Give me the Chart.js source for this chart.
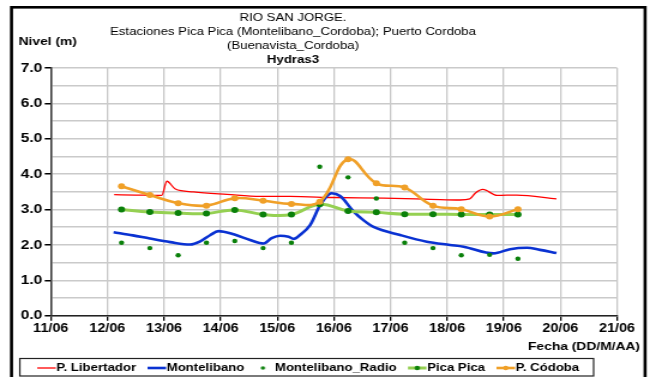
<!DOCTYPE html>
<html>
<head>
<meta charset="utf-8">
<title>Rio San Jorge - Niveles</title>
<script src="https://cdn.jsdelivr.net/npm/chart.js@4.4.1/dist/chart.umd.min.js"></script>
<style>
  html, body { margin: 0; padding: 0; background: #ffffff; }
  #nivel { display: block; width: 650px; height: 377px; }
</style>
</head>
<body>
<canvas id="nivel" width="542" height="377" style="width:650px;height:377px;"></canvas>
<script>
// X axis: days of June, one tick per day
const dayTicks = [11, 12, 13, 14, 15, 16, 17, 18, 19, 20, 21];
const tickLabels = ['11/06', '12/06', '13/06', '14/06', '15/06', '16/06', '17/06', '18/06', '19/06', '20/06', '21/06'];

// Manual readings, 06:00 and 18:00 each day (day of June as a decimal)
const readingDays = [12.25, 12.75, 13.25, 13.75, 14.25, 14.75, 15.25, 15.75, 16.25, 16.75, 17.25, 17.75, 18.25, 18.75, 19.25];
const puertoCordoba    = [3.66, 3.41, 3.18, 3.11, 3.32, 3.25, 3.16, 3.22, 4.42, 3.74, 3.62, 3.11, 3.01, 2.80, 3.01];
const picaPica         = [3.00, 2.93, 2.90, 2.89, 2.99, 2.86, 2.86, 3.15, 2.96, 2.92, 2.87, 2.87, 2.86, 2.86, 2.86];
const montelibanoRadio = [2.06, 1.91, 1.71, 2.06, 2.11, 1.91, 2.06, 4.21, 3.91, 3.31, 2.06, 1.91, 1.71, 1.72, 1.61];

// Automatic station Montelibano
const montelibanoDays  = [12.11, 12.45, 12.75, 13.11, 13.46, 13.64, 13.82, 13.96, 14.23, 14.52, 14.76, 14.90, 15.05, 15.20, 15.29, 15.40, 15.58, 15.76, 15.96, 16.11, 16.35, 16.52, 16.70, 17.17, 17.64, 18.05, 18.29, 18.82, 19.11, 19.41, 19.64, 19.93];
const montelibanoLevel = [2.36, 2.27, 2.18, 2.08, 2.01, 2.10, 2.28, 2.39, 2.30, 2.14, 2.04, 2.19, 2.26, 2.23, 2.17, 2.28, 2.56, 3.13, 3.46, 3.38, 2.94, 2.70, 2.51, 2.28, 2.09, 2.00, 1.95, 1.76, 1.88, 1.92, 1.86, 1.77];

// Automatic station P. Libertador
const libertadorDays  = [12.12, 12.50, 12.96, 13.05, 13.20, 13.52, 14.11, 14.70, 15.23, 15.99, 16.88, 17.70, 18.23, 18.40, 18.50, 18.63, 18.88, 19.23, 19.93];
const libertadorLevel = [3.42, 3.41, 3.40, 3.80, 3.58, 3.50, 3.43, 3.37, 3.37, 3.34, 3.32, 3.29, 3.27, 3.30, 3.47, 3.57, 3.40, 3.41, 3.30];

const FONT = "'Liberation Sans', Arial, Helvetica, sans-serif";
const RED = '#ff0000', BLUE = '#0a32d2', DARK_GREEN = '#0a800a', LIGHT_GREEN = '#95d052', ORANGE = '#f0a028';

const pairs = (xs, ys) => xs.map((x, i) => ({ x: x, y: ys[i] }));

// Small legend symbols: a line segment, optionally with a marker on it
function legendIcon(lineColor, lineWidth, dotColor, dotRadius) {
  const c = document.createElement('canvas');
  c.width = 21; c.height = 10;
  const g = c.getContext('2d');
  if (lineColor) {
    g.strokeStyle = lineColor; g.lineWidth = lineWidth;
    g.beginPath(); g.moveTo(5, 5); g.lineTo(20.5, 5); g.stroke();
  }
  if (dotColor) {
    g.fillStyle = dotColor;
    g.beginPath(); g.arc(lineColor ? 12.75 : 11, 5, dotRadius, 0, Math.PI * 2); g.fill();
  }
  return c;
}
const legendIcons = [
  legendIcon(RED, 1.3, null, 0),
  legendIcon(BLUE, 2.6, null, 0),
  legendIcon(null, 0, DARK_GREEN, 1.8),
  legendIcon(LIGHT_GREEN, 3, DARK_GREEN, 2.2),
  legendIcon(ORANGE, 2.6, ORANGE, 2.2)
];

// Frame, header texts, axis captions and the box around the legend
const decorations = {
  id: 'decorations',
  beforeDraw(chart) {
    const ctx = chart.ctx;
    ctx.save();
    ctx.fillStyle = '#ffffff';
    ctx.fillRect(0, 0, chart.width, chart.height);
    ctx.restore();
  },
  afterDraw(chart) {
    const ctx = chart.ctx;
    ctx.save();
    ctx.fillStyle = '#000000';
    ctx.textBaseline = 'middle';
    ctx.textAlign = 'center';
    ctx.font = '11px ' + FONT;
    ctx.fillText('RIO SAN JORGE.', 244.3, 18);
    ctx.fillText('Estaciones Pica Pica (Montelibano_Cordoba); Puerto Cordoba', 244.3, 32);
    ctx.fillText('(Buenavista_Cordoba)', 244.3, 45.5);
    ctx.font = 'bold 11px ' + FONT;
    ctx.fillText('Hydras3', 244.3, 59.5);

    ctx.font = 'bold 11.5px ' + FONT;
    ctx.textAlign = 'left';
    ctx.fillText('Nivel (m)', 15.5, 42);
    ctx.textAlign = 'right';
    ctx.fillText('Fecha (DD/M/AA)', 533.6, 347);

    const boxes = chart.legend.legendHitBoxes;
    if (boxes && boxes.length) {
      const first = boxes[0], last = boxes[boxes.length - 1];
      const left = first.left - 15;
      const right = last.left + last.width + 12;
      ctx.strokeStyle = '#222222';
      ctx.lineWidth = 1.2;
      ctx.strokeRect(left, 358.5, right - left, 17.5);
    }

    ctx.strokeStyle = '#000000';
    ctx.lineWidth = 2.6;
    ctx.strokeRect(9.6, 7.3, 528.3, 380);
    ctx.restore();
  }
};

new Chart(document.getElementById('nivel'), {
  type: 'line',
  data: {
    datasets: [
      {
        label: 'P. Libertador', data: pairs(libertadorDays, libertadorLevel),
        borderColor: RED, backgroundColor: RED, borderWidth: 1.3,
        pointRadius: 0, cubicInterpolationMode: 'monotone', order: 5
      },
      {
        label: 'Montelibano', data: pairs(montelibanoDays, montelibanoLevel),
        borderColor: BLUE, backgroundColor: BLUE, borderWidth: 2.6,
        pointRadius: 0, cubicInterpolationMode: 'monotone', order: 4
      },
      {
        label: 'Montelibano_Radio', data: pairs(readingDays, montelibanoRadio),
        showLine: false, borderColor: DARK_GREEN, backgroundColor: DARK_GREEN,
        pointRadius: 2.2, pointBorderWidth: 0, order: 3
      },
      {
        label: 'Pica Pica', data: pairs(readingDays, picaPica),
        borderColor: LIGHT_GREEN, backgroundColor: DARK_GREEN, borderWidth: 3,
        pointBackgroundColor: DARK_GREEN, pointBorderWidth: 0, pointRadius: 3,
        tension: 0.4, order: 2
      },
      {
        label: 'P. Códoba', data: pairs(readingDays, puertoCordoba),
        borderColor: ORANGE, backgroundColor: ORANGE, borderWidth: 2.6,
        pointBackgroundColor: ORANGE, pointBorderWidth: 0, pointRadius: 3,
        tension: 0.4, order: 1
      }
    ]
  },
  options: {
    responsive: false,
    animation: false,
    devicePixelRatio: 1,
    layout: { padding: { left: 0, right: 27.5, top: 68, bottom: -6.5 } },
    scales: {
      x: {
        type: 'linear', min: 11, max: 21,
        afterFit(scale) { scale.height = 36.8; },
        ticks: {
          stepSize: 1, autoSkip: false, maxRotation: 0, padding: 1,
          color: '#000000', font: { family: FONT, size: 12, weight: 'bold' },
          callback: (v) => { const i = dayTicks.indexOf(v); return i >= 0 ? tickLabels[i] : ''; }
        },
        grid: { color: '#c8c8c8', lineWidth: 1.3, tickColor: '#000000', tickLength: 5 },
        border: { color: '#222222', width: 1.5 }
      },
      y: {
        min: 0, max: 7,
        afterFit(scale) { scale.width = 42.3; },
        ticks: {
          stepSize: 0.5, autoSkip: false, padding: 2,
          color: '#000000', font: { family: FONT, size: 13, weight: 'bold' },
          callback: (v) => (Math.abs(v % 1) < 1e-9 ? v.toFixed(1) : '')
        },
        grid: {
          color: '#cacaca', lineWidth: 1.5, tickLength: 5,
          tickColor: (c) => (c.tick && Math.abs(c.tick.value % 1) < 1e-9 ? '#000000' : 'rgba(0,0,0,0)')
        },
        border: { color: '#333333', width: 1.5 }
      }
    },
    plugins: {
      title: { display: false },
      tooltip: { enabled: false },
      legend: {
        position: 'bottom',
        labels: {
          usePointStyle: true, pointStyleWidth: 10, padding: 10,
          color: '#000000', font: { family: FONT, size: 11, weight: 'bold' },
          sort: (a, b) => a.datasetIndex - b.datasetIndex,
          generateLabels(chart) {
            const items = Chart.defaults.plugins.legend.labels.generateLabels(chart);
            items.forEach((it) => { it.pointStyle = legendIcons[it.datasetIndex]; });
            return items;
          }
        }
      }
    }
  },
  plugins: [decorations]
});
</script>
</body>
</html>
